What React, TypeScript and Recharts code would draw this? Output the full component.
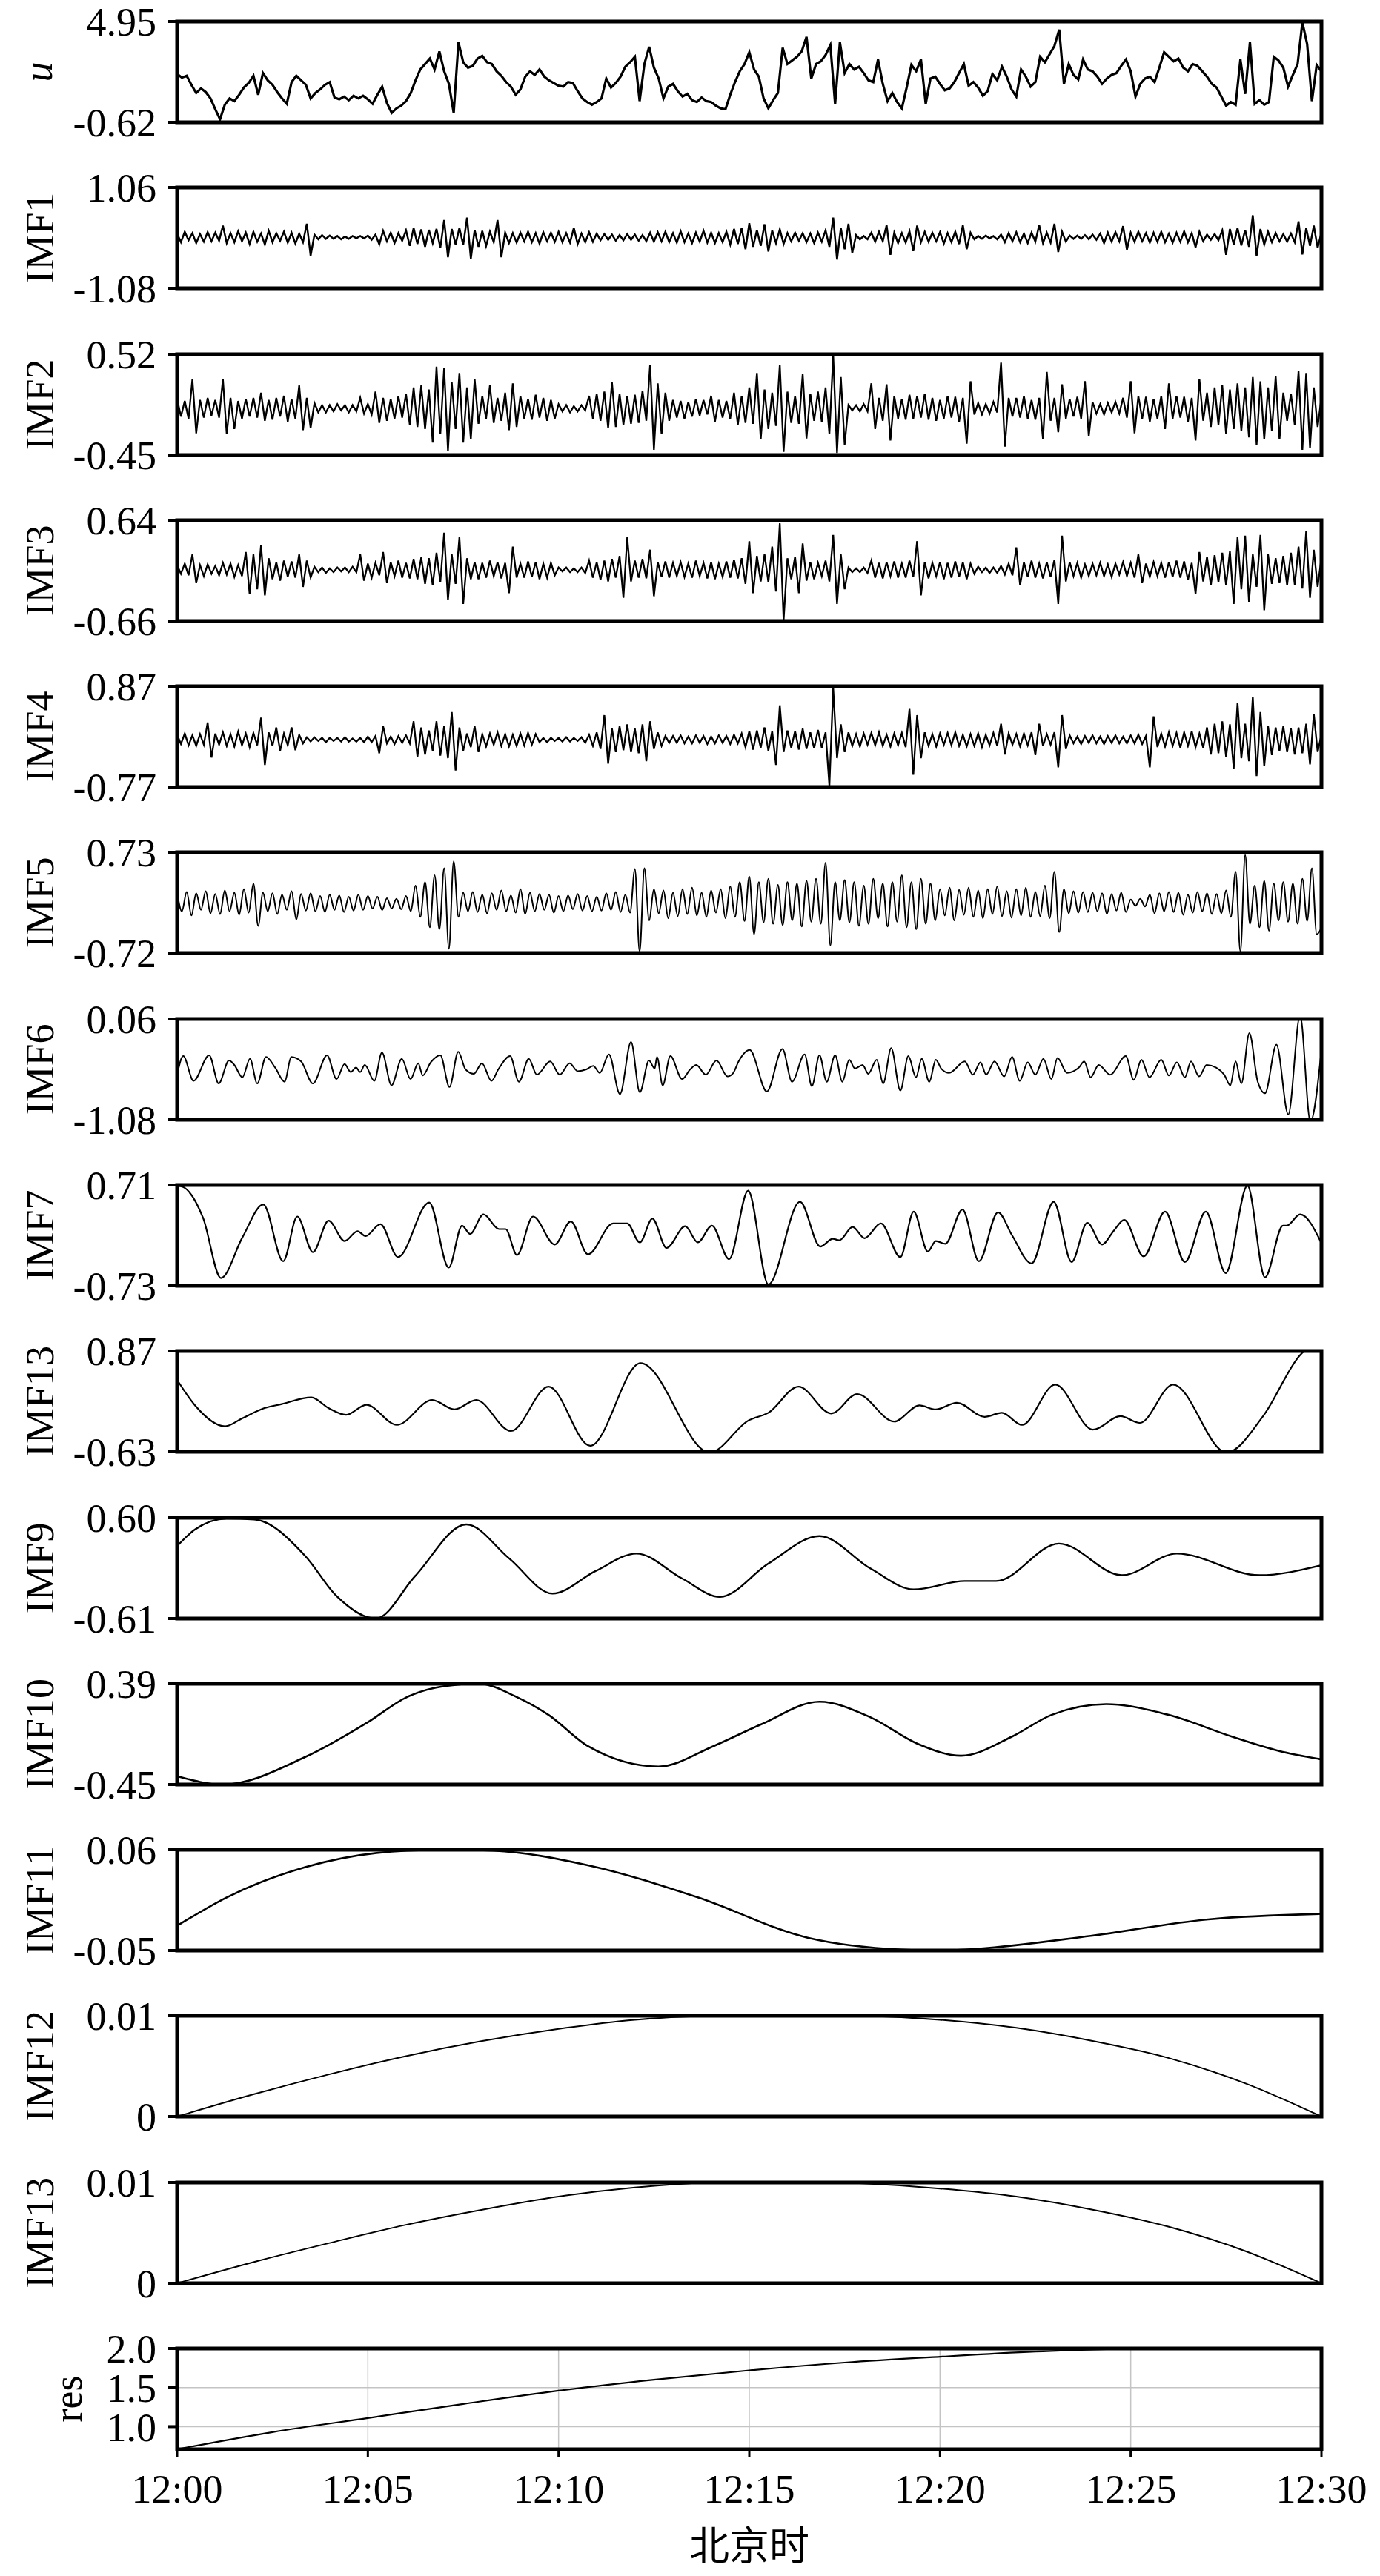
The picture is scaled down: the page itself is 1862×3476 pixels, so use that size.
import React from 'react';
import { LineChart, Line, XAxis, YAxis, ReferenceArea, CartesianGrid } from 'recharts';

const SERIF = '"Liberation Serif", "Times New Roman", "DejaVu Serif", serif';
const CJK = '"Noto Sans CJK SC", "Noto Sans", sans-serif';

const TIME_TICKS = [0, 5, 10, 15, 20, 25, 30];
const TIME_LABELS = ['12:00', '12:05', '12:10', '12:15', '12:20', '12:25', '12:30'];
const X_TITLE = '北京时';

// u : 241 samples, 0..30 min
const U_VALUES = [2.05,1.85,1.95,1.45,1.0,1.25,1.05,0.7,0.1,-0.45,
0.35,0.7,0.55,0.9,1.3,1.55,1.95,0.9,2.1,1.7,
1.45,1.05,0.7,0.4,1.6,1.95,1.7,1.45,0.7,1.0,
1.2,1.45,1.6,0.75,0.65,0.8,0.6,0.85,0.7,0.85,
0.65,0.4,0.9,1.35,0.45,-0.1,0.15,0.3,0.55,1.0,
1.7,2.3,2.6,2.9,2.3,3.3,2.2,1.5,-0.1,3.8,
2.7,2.4,2.5,2.9,3.05,2.7,2.6,2.2,1.95,1.6,
1.35,0.9,1.2,1.9,2.2,2.0,2.3,1.9,1.7,1.55,
1.4,1.35,1.6,1.55,1.1,0.7,0.5,0.35,0.5,0.7,
1.8,1.3,1.55,1.9,2.45,2.7,3.0,0.55,2.6,3.55,
2.4,1.8,0.7,1.35,1.5,1.1,0.8,0.95,0.6,0.5,
0.75,0.55,0.5,0.3,0.15,0.1,0.9,1.6,2.2,2.6,
3.25,2.3,1.9,0.7,0.15,0.6,1.0,3.5,2.6,2.8,
3.0,3.3,4.1,1.8,2.6,2.75,3.1,3.65,0.4,3.8,
2.1,2.6,2.3,2.45,2.1,1.7,1.6,2.85,1.5,0.55,
1.0,0.5,0.15,1.3,2.55,2.2,2.85,0.4,1.8,1.9,
1.5,1.15,1.25,1.6,2.1,2.6,1.4,1.6,1.3,0.85,
1.1,2.05,1.7,2.45,1.9,1.2,0.8,2.3,1.9,1.35,
1.6,3.0,2.7,3.15,3.6,4.5,1.5,2.6,2.0,1.75,
2.85,2.3,2.2,1.9,1.5,1.8,2.0,2.1,2.5,2.85,
2.2,0.8,1.5,1.8,1.9,1.6,2.4,3.25,3.0,2.75,
2.9,2.4,2.2,2.6,2.5,2.2,1.9,1.5,1.3,0.8,
0.3,0.5,0.35,2.85,0.95,3.8,0.4,0.6,0.35,0.5,
3.0,2.8,2.4,1.35,2.0,2.6,4.9,3.7,0.55,2.55,
2.2];

// IMF1..IMF4 : 301 samples, 0..30 min
const IMF1_VALUES = [0.08,-0.1,0.12,-0.06,0.09,-0.12,0.07,-0.09,0.11,-0.08,
0.1,-0.07,0.25,-0.12,0.09,-0.1,0.13,-0.08,0.1,-0.14,
0.12,-0.09,0.08,-0.15,0.14,-0.1,0.09,-0.07,0.12,-0.11,
0.1,-0.13,0.08,-0.1,0.29,-0.39,0.06,-0.04,0.05,-0.03,
0.04,-0.03,0.03,-0.04,0.02,-0.03,0.03,-0.02,0.03,-0.02,
0.04,-0.05,0.06,-0.15,0.14,-0.08,0.1,-0.12,0.09,-0.07,
0.15,-0.18,0.2,-0.14,0.17,-0.2,0.16,-0.12,0.18,-0.22,
0.37,-0.42,0.18,-0.15,0.2,-0.16,0.42,-0.45,0.16,-0.2,
0.14,-0.18,0.12,-0.1,0.37,-0.42,0.1,-0.12,0.09,-0.11,
0.1,-0.08,0.12,-0.1,0.09,-0.13,0.11,-0.08,0.1,-0.09,
0.12,-0.1,0.09,-0.11,0.2,-0.14,0.08,-0.1,0.11,-0.09,
0.08,-0.06,0.07,-0.05,0.06,-0.07,0.05,-0.06,0.07,-0.05,
0.06,-0.07,0.05,-0.08,0.1,-0.09,0.11,-0.08,0.12,-0.1,
0.09,-0.11,0.13,-0.1,0.08,-0.12,0.1,-0.09,0.14,-0.11,
0.1,-0.12,0.09,-0.1,0.12,-0.15,0.18,-0.14,0.2,-0.25,
0.3,-0.2,0.16,-0.18,0.28,-0.3,0.15,-0.12,0.17,-0.14,
0.09,-0.08,0.1,-0.07,0.09,-0.1,0.08,-0.12,0.1,-0.09,
0.15,-0.2,0.42,-0.47,0.2,-0.25,0.29,-0.33,0.05,-0.04,
0.03,-0.04,0.1,-0.09,0.12,-0.08,0.26,-0.37,0.1,-0.12,
0.09,-0.11,0.13,-0.29,0.25,-0.1,0.12,-0.09,0.1,-0.08,
0.11,-0.13,0.09,-0.1,0.12,-0.14,0.26,-0.25,0.1,-0.04,
0.03,-0.03,0.04,-0.02,0.03,-0.04,0.06,-0.1,0.09,-0.08,
0.11,-0.1,0.08,-0.12,0.1,-0.09,0.26,-0.12,0.1,-0.11,
0.29,-0.31,0.12,-0.09,0.04,-0.03,0.04,-0.03,0.05,-0.04,
0.06,-0.05,0.08,-0.12,0.1,-0.09,0.11,-0.08,0.24,-0.26,
0.1,-0.09,0.12,-0.08,0.09,-0.11,0.1,-0.09,0.12,-0.1,
0.08,-0.11,0.1,-0.09,0.13,-0.1,0.09,-0.21,0.12,-0.08,
0.06,-0.05,0.07,-0.06,0.15,-0.37,0.18,-0.15,0.2,-0.17,
0.16,-0.2,0.47,-0.39,0.18,-0.15,0.12,-0.1,0.09,-0.08,
0.07,-0.09,0.08,-0.1,0.34,-0.36,0.2,-0.18,0.25,-0.22,
0.1];

const IMF2_VALUES = [0.09,-0.08,0.07,-0.1,0.28,-0.24,0.08,-0.09,0.1,-0.07,
0.08,-0.09,0.28,-0.25,0.1,-0.2,0.07,-0.1,0.09,-0.08,
0.1,-0.09,0.15,-0.12,0.08,-0.11,0.1,-0.08,0.12,-0.13,
0.09,-0.1,0.22,-0.21,0.1,-0.19,0.05,-0.04,0.03,-0.04,
0.03,-0.03,0.04,-0.02,0.03,-0.04,0.03,-0.03,0.1,-0.05,
0.04,-0.06,0.16,-0.14,0.1,-0.12,0.09,-0.1,0.12,-0.09,
0.14,-0.16,0.2,-0.18,0.22,-0.2,0.18,-0.33,0.4,-0.25,
0.39,-0.41,0.25,-0.2,0.34,-0.33,0.2,-0.3,0.28,-0.15,
0.12,-0.1,0.22,-0.14,0.1,-0.12,0.15,-0.21,0.24,-0.18,
0.12,-0.1,0.09,-0.11,0.13,-0.09,0.1,-0.12,0.08,-0.1,
0.04,-0.03,0.03,-0.04,0.02,-0.03,0.03,-0.02,0.12,-0.1,
0.14,-0.12,0.16,-0.19,0.25,-0.18,0.14,-0.16,0.12,-0.15,
0.13,-0.14,0.17,-0.12,0.42,-0.4,0.24,-0.25,0.15,-0.12,
0.08,-0.09,0.07,-0.1,0.06,-0.08,0.09,-0.07,0.08,-0.06,
0.12,-0.13,0.08,-0.09,0.07,-0.1,0.15,-0.16,0.12,-0.14,
0.2,-0.15,0.34,-0.3,0.18,-0.2,0.15,-0.17,0.42,-0.42,
0.16,-0.14,0.12,-0.15,0.33,-0.29,0.14,-0.12,0.16,-0.13,
0.2,-0.25,0.51,-0.43,0.3,-0.35,0.03,-0.02,0.03,-0.03,
0.04,-0.03,0.24,-0.2,0.1,-0.12,0.23,-0.31,0.12,-0.1,
0.09,-0.11,0.13,-0.1,0.12,-0.09,0.14,-0.11,0.1,-0.12,
0.08,-0.1,0.12,-0.09,0.11,-0.13,0.1,-0.34,0.26,-0.06,
0.05,-0.06,0.04,-0.05,0.06,-0.04,0.44,-0.37,0.1,-0.08,
0.1,-0.09,0.12,-0.1,0.08,-0.11,0.1,-0.3,0.35,-0.12,
0.1,-0.23,0.23,-0.1,0.09,-0.08,0.11,-0.1,0.26,-0.27,
0.06,-0.05,0.04,-0.06,0.05,-0.04,0.06,-0.05,0.1,-0.09,
0.26,-0.24,0.12,-0.1,0.11,-0.13,0.09,-0.1,0.12,-0.2,
0.24,-0.1,0.12,-0.09,0.11,-0.13,0.1,-0.31,0.28,-0.12,
0.15,-0.18,0.2,-0.16,0.22,-0.25,0.18,-0.2,0.24,-0.22,
0.2,-0.28,0.3,-0.35,0.26,-0.3,0.2,-0.22,0.31,-0.3,
0.15,-0.12,0.14,-0.16,0.36,-0.4,0.34,-0.38,0.2,-0.18,
0.1];

const IMF3_VALUES = [0.06,-0.05,0.08,-0.07,0.2,-0.17,0.06,-0.08,0.07,-0.05,
0.05,-0.07,0.09,-0.06,0.08,-0.09,0.06,-0.08,0.23,-0.31,
0.2,-0.25,0.32,-0.33,0.15,-0.12,0.1,-0.14,0.12,-0.09,
0.11,-0.1,0.2,-0.22,0.12,-0.1,0.04,-0.03,0.03,-0.04,
0.02,-0.03,0.03,-0.02,0.03,-0.03,0.04,-0.03,0.2,-0.14,
0.08,-0.1,0.09,-0.07,0.23,-0.17,0.1,-0.08,0.12,-0.1,
0.09,-0.11,0.14,-0.12,0.16,-0.18,0.15,-0.2,0.22,-0.16,
0.48,-0.39,0.2,-0.18,0.42,-0.44,0.15,-0.12,0.1,-0.12,
0.09,-0.1,0.12,-0.08,0.1,-0.11,0.09,-0.3,0.3,-0.1,
0.08,-0.1,0.11,-0.09,0.1,-0.12,0.08,-0.1,0.09,-0.07,
0.03,-0.02,0.03,-0.03,0.02,-0.03,0.03,-0.04,0.12,-0.1,
0.1,-0.13,0.12,-0.15,0.14,-0.1,0.18,-0.36,0.42,-0.15,
0.12,-0.1,0.14,-0.11,0.26,-0.34,0.1,-0.09,0.11,-0.1,
0.09,-0.08,0.1,-0.09,0.08,-0.1,0.12,-0.08,0.09,-0.11,
0.1,-0.12,0.08,-0.09,0.11,-0.1,0.13,-0.11,0.15,-0.18,
0.37,-0.3,0.18,-0.15,0.2,-0.16,0.3,-0.28,0.6,-0.65,
0.15,-0.12,0.17,-0.3,0.34,-0.14,0.1,-0.12,0.09,-0.08,
0.12,-0.15,0.45,-0.44,0.2,-0.25,0.03,-0.03,0.02,-0.03,
0.03,-0.04,0.12,-0.1,0.09,-0.11,0.1,-0.08,0.11,-0.1,
0.08,-0.1,0.12,-0.09,0.37,-0.33,0.1,-0.11,0.09,-0.08,
0.1,-0.12,0.09,-0.1,0.11,-0.09,0.1,-0.12,0.08,-0.05,
0.04,-0.03,0.03,-0.04,0.03,-0.04,0.05,-0.06,0.08,-0.07,
0.29,-0.2,0.1,-0.09,0.12,-0.1,0.08,-0.11,0.1,-0.09,
0.13,-0.44,0.44,-0.15,0.1,-0.08,0.09,-0.1,0.07,-0.08,
0.08,-0.07,0.09,-0.08,0.07,-0.09,0.08,-0.06,0.1,-0.08,
0.09,-0.1,0.2,-0.17,0.08,-0.09,0.1,-0.08,0.09,-0.1,
0.1,-0.09,0.12,-0.1,0.11,-0.13,0.09,-0.31,0.23,-0.15,
0.17,-0.2,0.19,-0.16,0.22,-0.2,0.24,-0.44,0.42,-0.25,
0.44,-0.41,0.2,-0.22,0.45,-0.52,0.2,-0.18,0.15,-0.17,
0.18,-0.2,0.22,-0.19,0.3,-0.24,0.5,-0.36,0.26,-0.22,
0.15];

const IMF4_VALUES = [0.08,-0.07,0.1,-0.09,0.07,-0.1,0.09,-0.08,0.28,-0.29,
0.1,-0.08,0.12,-0.1,0.09,-0.11,0.13,-0.09,0.1,-0.12,
0.11,-0.09,0.36,-0.41,0.12,-0.1,0.2,-0.18,0.1,-0.09,
0.2,-0.17,0.08,-0.06,0.04,-0.03,0.04,-0.02,0.03,-0.04,
0.03,-0.02,0.03,-0.03,0.04,-0.03,0.02,-0.03,0.03,-0.04,
0.05,-0.04,0.06,-0.22,0.22,-0.06,0.05,-0.07,0.06,-0.05,
0.07,-0.06,0.3,-0.28,0.2,-0.24,0.15,-0.18,0.3,-0.26,
0.22,-0.3,0.45,-0.5,0.2,-0.18,0.1,-0.12,0.22,-0.2,
0.09,-0.11,0.1,-0.08,0.12,-0.1,0.09,-0.11,0.08,-0.1,
0.1,-0.09,0.11,-0.08,0.09,-0.04,0.03,-0.04,0.03,-0.02,
0.03,-0.03,0.04,-0.03,0.03,-0.02,0.04,-0.05,0.08,-0.1,
0.12,-0.15,0.4,-0.39,0.18,-0.2,0.22,-0.17,0.25,-0.2,
0.18,-0.22,0.25,-0.35,0.3,-0.15,0.12,-0.1,0.06,-0.05,
0.06,-0.05,0.07,-0.06,0.05,-0.06,0.07,-0.05,0.06,-0.07,
0.05,-0.06,0.07,-0.05,0.06,-0.07,0.08,-0.06,0.1,-0.12,
0.14,-0.16,0.15,-0.13,0.2,-0.18,0.14,-0.41,0.56,-0.2,
0.15,-0.13,0.14,-0.16,0.18,-0.15,0.12,-0.14,0.16,-0.13,
0.12,-0.75,0.84,-0.3,0.25,-0.2,0.12,-0.1,0.09,-0.11,
0.1,-0.08,0.11,-0.09,0.12,-0.1,0.08,-0.11,0.1,-0.09,
0.11,-0.12,0.5,-0.57,0.4,-0.3,0.12,-0.1,0.09,-0.11,
0.1,-0.08,0.11,-0.09,0.12,-0.1,0.08,-0.11,0.09,-0.1,
0.1,-0.12,0.08,-0.09,0.11,-0.1,0.26,-0.24,0.1,-0.08,
0.09,-0.11,0.1,-0.09,0.12,-0.25,0.26,-0.1,0.09,-0.08,
0.12,-0.45,0.4,-0.15,0.07,-0.06,0.05,-0.07,0.06,-0.05,
0.07,-0.06,0.05,-0.07,0.06,-0.05,0.07,-0.06,0.05,-0.06,
0.07,-0.06,0.08,-0.07,0.06,-0.45,0.38,-0.12,0.1,-0.11,
0.12,-0.1,0.11,-0.13,0.12,-0.1,0.14,-0.12,0.1,-0.13,
0.2,-0.24,0.26,-0.22,0.3,-0.28,0.25,-0.47,0.6,-0.3,
0.26,-0.35,0.7,-0.59,0.45,-0.43,0.22,-0.25,0.2,-0.18,
0.22,-0.2,0.18,-0.24,0.2,-0.22,0.26,-0.4,0.42,-0.2,
0.08];

// IMF5 : 241 extrema samples
const IMF5_VALUES = [0.15,-0.12,0.16,-0.18,0.14,-0.1,0.17,-0.15,
0.13,-0.16,0.18,-0.12,0.15,-0.17,0.2,-0.14,
0.28,-0.33,0.15,-0.12,0.14,-0.16,0.12,-0.1,
0.17,-0.24,0.13,-0.11,0.14,-0.12,0.1,-0.13,
0.12,-0.1,0.11,-0.13,0.09,-0.11,0.12,-0.1,
0.1,-0.08,0.09,-0.1,0.07,-0.08,0.06,-0.09,
0.1,-0.12,0.25,-0.2,0.3,-0.35,0.4,-0.38,
0.5,-0.66,0.6,-0.2,0.15,-0.12,0.16,-0.13,
0.12,-0.15,0.14,-0.1,0.18,-0.12,0.11,-0.14,
0.2,-0.16,0.15,-0.12,0.13,-0.1,0.12,-0.14,
0.1,-0.12,0.11,-0.09,0.13,-0.11,0.1,-0.12,
0.09,-0.11,0.14,-0.1,0.16,-0.13,0.12,-0.14,
0.49,-0.7,0.5,-0.25,0.2,-0.15,0.18,-0.22,
0.15,-0.19,0.2,-0.16,0.22,-0.18,0.15,-0.2,
0.18,-0.14,0.2,-0.22,0.24,-0.2,0.3,-0.26,
0.38,-0.45,0.3,-0.28,0.35,-0.3,0.26,-0.32,
0.3,-0.25,0.28,-0.34,0.32,-0.27,0.35,-0.3,
0.58,-0.61,0.3,-0.25,0.33,-0.28,0.3,-0.33,
0.25,-0.3,0.35,-0.22,0.28,-0.34,0.3,-0.27,
0.4,-0.35,0.3,-0.38,0.35,-0.3,0.28,-0.25,
0.2,-0.18,0.22,-0.25,0.19,-0.17,0.22,-0.2,
0.18,-0.22,0.2,-0.16,0.24,-0.19,0.17,-0.21,
0.2,-0.18,0.22,-0.2,0.16,-0.19,0.25,-0.22,
0.45,-0.42,0.2,-0.15,0.17,-0.14,0.16,-0.13,
0.15,-0.12,0.14,-0.16,0.13,-0.11,0.15,-0.13,
0.05,-0.04,0.06,-0.05,0.12,-0.15,0.14,-0.12,
0.16,-0.13,0.15,-0.17,0.12,-0.14,0.16,-0.12,
0.14,-0.16,0.13,-0.15,0.18,-0.2,0.45,-0.7,
0.69,-0.3,0.25,-0.35,0.32,-0.4,0.28,-0.25,
0.3,-0.27,0.28,-0.3,0.35,-0.26,0.5,-0.45,
-0.36];

// [minute, value] pairs
const IMF6_POINTS = [[0,-0.57],[0.16,-0.36],[0.43,-0.64],[0.84,-0.35],[1.09,-0.67],[1.36,-0.41],[1.5,-0.46],[1.71,-0.6],[1.91,-0.39],[2.1,-0.67],[2.33,-0.37],[2.57,-0.49],[2.82,-0.65],[2.99,-0.37],[3.25,-0.42],[3.56,-0.67],[3.93,-0.35],[4.18,-0.62],[4.39,-0.45],[4.55,-0.54],[4.69,-0.49],[4.8,-0.54],[4.92,-0.46],[5.17,-0.64],[5.37,-0.32],[5.62,-0.69],[5.89,-0.39],[6.12,-0.62],[6.32,-0.44],[6.44,-0.58],[6.65,-0.43],[6.9,-0.35],[7.14,-0.71],[7.37,-0.31],[7.56,-0.51],[7.78,-0.56],[7.99,-0.44],[8.24,-0.64],[8.42,-0.51],[8.73,-0.36],[8.96,-0.65],[9.22,-0.39],[9.43,-0.57],[9.78,-0.42],[10.03,-0.57],[10.29,-0.44],[10.5,-0.53],[10.73,-0.51],[10.91,-0.47],[11.08,-0.55],[11.32,-0.34],[11.61,-0.79],[11.9,-0.2],[12.13,-0.77],[12.37,-0.41],[12.52,-0.5],[12.58,-0.37],[12.73,-0.69],[12.93,-0.36],[13.24,-0.62],[13.45,-0.51],[13.61,-0.46],[13.86,-0.57],[14.14,-0.41],[14.43,-0.59],[14.58,-0.55],[14.72,-0.42],[15.01,-0.29],[15.46,-0.76],[15.87,-0.28],[16.12,-0.65],[16.45,-0.34],[16.64,-0.7],[16.84,-0.35],[17.03,-0.65],[17.25,-0.35],[17.44,-0.65],[17.62,-0.4],[17.77,-0.5],[17.97,-0.46],[18.12,-0.56],[18.34,-0.4],[18.51,-0.67],[18.72,-0.27],[18.96,-0.75],[19.17,-0.36],[19.37,-0.6],[19.52,-0.39],[19.72,-0.65],[19.89,-0.4],[20.03,-0.5],[20.24,-0.55],[20.65,-0.42],[20.86,-0.57],[21.06,-0.43],[21.21,-0.57],[21.43,-0.42],[21.68,-0.59],[21.89,-0.37],[22.09,-0.64],[22.3,-0.43],[22.5,-0.57],[22.71,-0.39],[22.92,-0.62],[23.08,-0.38],[23.33,-0.55],[23.64,-0.49],[23.78,-0.42],[23.95,-0.6],[24.16,-0.46],[24.46,-0.57],[24.87,-0.36],[25.08,-0.63],[25.28,-0.4],[25.49,-0.6],[25.8,-0.4],[26.0,-0.58],[26.21,-0.43],[26.42,-0.6],[26.58,-0.42],[26.79,-0.59],[26.99,-0.46],[27.24,-0.49],[27.45,-0.57],[27.61,-0.69],[27.75,-0.42],[27.9,-0.67],[28.11,-0.1],[28.33,-0.65],[28.52,-0.78],[28.82,-0.23],[29.13,-1.02],[29.44,0.1],[29.71,-1.1],[30,-0.29]];

const IMF7_POINTS = [[0,0.7],[0.16,0.68],[0.68,0.24],[1.15,-0.62],[1.71,-0.04],[2.26,0.43],[2.78,-0.38],[3.15,0.26],[3.56,-0.25],[3.97,0.2],[4.39,-0.09],[4.73,0.05],[4.94,-0.02],[5.33,0.15],[5.79,-0.32],[6.61,0.46],[7.12,-0.47],[7.47,0.13],[7.68,0.01],[8.03,0.29],[8.44,0.08],[8.61,0.08],[8.91,-0.29],[9.33,0.26],[9.9,-0.14],[10.32,0.19],[10.77,-0.28],[11.43,0.16],[11.8,0.16],[12.13,-0.11],[12.46,0.23],[12.83,-0.19],[13.32,0.12],[13.65,-0.11],[14.02,0.13],[14.47,-0.35],[14.97,0.63],[15.5,-0.71],[16.33,0.47],[16.86,-0.17],[17.19,-0.06],[17.36,-0.08],[17.71,0.11],[18.02,-0.05],[18.45,0.16],[18.96,-0.32],[19.31,0.33],[19.68,-0.24],[19.89,-0.09],[20.14,-0.13],[20.59,0.36],[21.02,-0.38],[21.52,0.32],[21.89,-0.01],[22.4,-0.41],[22.98,0.47],[23.45,-0.39],[23.86,0.17],[24.25,-0.14],[24.56,0.06],[24.83,0.21],[25.34,-0.31],[25.9,0.33],[26.42,-0.39],[26.97,0.33],[27.49,-0.55],[28.06,0.7],[28.52,-0.61],[28.99,0.13],[29.09,0.13],[29.44,0.29],[30,-0.12]];

const IMF8_POINTS = [[0,0.44],[0.47,0.06],[1.26,-0.25],[1.71,-0.13],[2.29,0.02],[2.74,0.08],[3.52,0.18],[3.97,0.02],[4.43,-0.08],[4.96,0.07],[5.76,-0.23],[6.69,0.14],[7.27,0.0],[7.84,0.14],[8.75,-0.32],[9.74,0.34],[10.83,-0.54],[12.15,0.69],[13.96,-0.64],[14.99,-0.16],[15.5,-0.05],[16.29,0.34],[17.15,-0.06],[17.83,0.23],[18.8,-0.18],[19.46,0.06],[19.89,0.0],[20.44,0.1],[21.17,-0.11],[21.62,-0.05],[22.15,-0.23],[23.02,0.37],[24.01,-0.3],[24.73,-0.1],[25.24,-0.2],[26.11,0.37],[27.51,-0.64],[28.47,-0.1],[29.44,0.81],[30,1.05]];

const IMF9_POINTS = [[0,0.26],[0.47,0.46],[1.3,0.59],[2.02,0.58],[3.36,0.14],[4.18,-0.34],[5.21,-0.61],[6.24,-0.1],[7.58,0.52],[8.71,0.11],[9.84,-0.31],[10.97,-0.04],[12.04,0.17],[13.24,-0.13],[14.23,-0.35],[15.5,0.05],[16.84,0.38],[18.18,-0.01],[19.31,-0.26],[20.65,-0.16],[21.47,-0.16],[23.12,0.29],[24.77,-0.09],[26.21,0.17],[28.37,-0.09],[30,0.03]];

const IMF10_POINTS = [[0,-0.38],[1.19,-0.45],[3.36,-0.22],[5.0,0.07],[6.03,0.28],[7.0,0.37],[7.9,0.39],[8.9,0.28],[9.74,0.13],[10.77,-0.13],[12.62,-0.3],[14.06,-0.13],[15.3,0.05],[16.84,0.24],[18.18,0.11],[19.41,-0.11],[20.55,-0.21],[21.89,-0.05],[22.92,0.13],[24.36,0.22],[26.0,0.13],[27.65,-0.05],[28.89,-0.17],[30,-0.24]];

const IMF11_POINTS = [[0,-0.023],[1.3,0.008],[3.36,0.041],[6.03,0.059],[7.2,0.06],[8.3,0.059],[10.77,0.043],[13.65,0.008],[16.53,-0.036],[19.0,-0.049],[20.0,-0.05],[20.65,-0.049],[23.95,-0.034],[27.03,-0.016],[30,-0.01]];

const IMF12_POINTS = [[0,0],[2,0.0022],[4,0.0042],[6,0.006],[8,0.0075],[10,0.0087],[12,0.0096],[14,0.01],[16,0.0101],[18,0.01],[20,0.0096],[22,0.0088],[24,0.0075],[26,0.0058],[28,0.0033],[30,0]];

const IMF13_POINTS = [[0,0],[2,0.0021],[4,0.004],[6,0.0058],[8,0.0073],[10,0.0086],[12,0.0095],[14,0.01],[16,0.0101],[18,0.0099],[20,0.0094],[22,0.0086],[24,0.0073],[26,0.0056],[28,0.0032],[30,0]];

const RES_POINTS = [[0,0.71],[2.5,0.93],[5,1.11],[7.5,1.29],[10,1.46],[12.5,1.6],[15,1.72],[17.5,1.82],[20,1.895],[22.5,1.96],[25,2.0],[27.5,2.03],[30,2.05]];

const Y_LABELS = ['u', 'IMF1', 'IMF2', 'IMF3', 'IMF4', 'IMF5', 'IMF6', 'IMF7', 'IMF13', 'IMF9', 'IMF10', 'IMF11', 'IMF12', 'IMF13', 'res'];
const Y_TICKS = [[-0.62, 4.95], [-1.08, 1.06], [-0.45, 0.52], [-0.66, 0.64], [-0.77, 0.87], [-0.72, 0.73], [-1.08, 0.06], [-0.73, 0.71], [-0.63, 0.87], [-0.61, 0.6], [-0.45, 0.39], [-0.05, 0.06], [0, 0.01], [0, 0.01], [1.0, 1.5, 2.0]];
const Y_TICK_LABELS = [['-0.62', '4.95'], ['-1.08', '1.06'], ['-0.45', '0.52'], ['-0.66', '0.64'], ['-0.77', '0.87'], ['-0.72', '0.73'], ['-1.08', '0.06'], ['-0.73', '0.71'], ['-0.63', '0.87'], ['-0.61', '0.60'], ['-0.45', '0.39'], ['-0.05', '0.06'], ['0', '0.01'], ['0', '0.01'], ['1.0', '1.5', '2.0']];
const Y_DOMAINS = [[-0.62, 4.95], [-1.08, 1.06], [-0.45, 0.52], [-0.66, 0.64], [-0.77, 0.87], [-0.72, 0.73], [-1.08, 0.06], [-0.73, 0.71], [-0.63, 0.87], [-0.61, 0.6], [-0.45, 0.39], [-0.05, 0.06], [0, 0.01], [0, 0.01], [0.71, 2.0]];

const uniform = (vals: number[]) => vals.map((v, i) => ({ t: (i * 30) / (vals.length - 1), v }));
const pairs = (pts: number[][]) => pts.map(([t, v]) => ({ t, v }));

const SERIES = [
  uniform(U_VALUES), uniform(IMF1_VALUES), uniform(IMF2_VALUES), uniform(IMF3_VALUES), uniform(IMF4_VALUES),
  uniform(IMF5_VALUES), pairs(IMF6_POINTS), pairs(IMF7_POINTS), pairs(IMF8_POINTS), pairs(IMF9_POINTS),
  pairs(IMF10_POINTS), pairs(IMF11_POINTS), pairs(IMF12_POINTS), pairs(IMF13_POINTS), pairs(RES_POINTS),
];

// styling (kept apart from data)
const CURVES = ['linear', 'linear', 'linear', 'linear', 'linear', 'monotone', 'monotone', 'monotone', 'monotone', 'monotone', 'monotone', 'monotone', 'monotone', 'monotone', 'monotone'];
const WIDTHS = [3.2, 2.5, 2.3, 2.3, 2.3, 2, 2, 2.2, 2.2, 2.4, 2.6, 2.6, 2, 2, 2.2];
const LABEL_X = [70, 72, 72, 72, 72, 72, 72, 72, 72, 72, 72, 72, 72, 72, 110];

const PANEL_TOP0 = 29;
const PANEL_PITCH = 224.29;
const PLOT_H = 136;
const M_TOP = 40;
const LEFT_W = 239;
const RIGHT_M = 1862 - 1783;

const YLab = (props: any) => {
  const { text, bx, italic } = props;
  const cy = M_TOP + PLOT_H / 2;
  return (
    <text x={bx} y={cy} transform={`rotate(-90 ${bx} ${cy})`} textAnchor="middle" fontSize={54}
      fontFamily={SERIF} fontStyle={italic ? 'italic' : 'normal'} fill="#000">{text}</text>
  );
};

const XLab = () => (
  <text x={1011} y={M_TOP + PLOT_H + 150} textAnchor="middle" fontSize={54} fontFamily={CJK} fill="#000">{X_TITLE}</text>
);

function Panel({ i }: { i: number }) {
  const last = i === SERIES.length - 1;
  const xH = last ? 170 : 40;
  const ticks = Y_TICKS[i];
  const labels = Y_TICK_LABELS[i];
  const dom = Y_DOMAINS[i];
  return (
    <div style={{ position: 'absolute', left: 0, top: PANEL_TOP0 + i * PANEL_PITCH - M_TOP }}>
      <LineChart width={1862} height={M_TOP + PLOT_H + xH} data={SERIES[i]}
        margin={{ top: M_TOP, right: RIGHT_M, bottom: 0, left: 0 }}>
        {last && <CartesianGrid stroke="#c4c4c4" strokeWidth={1.5} />}
        <XAxis dataKey="t" type="number" domain={[0, 30]} ticks={TIME_TICKS} interval={0}
          height={xH} axisLine={false} tickSize={11} tickMargin={23}
          tickLine={{ stroke: '#000', strokeWidth: 3 }}
          tick={last ? { fill: '#000', fontSize: 54, fontFamily: SERIF } : false}
          tickFormatter={(v: number) => TIME_LABELS[TIME_TICKS.indexOf(v)]}
          label={last ? <XLab /> : undefined} />
        <YAxis type="number" domain={dom} ticks={ticks} interval={0} allowDataOverflow
          width={LEFT_W} axisLine={false} tickSize={12} tickMargin={16}
          tickLine={{ stroke: '#000', strokeWidth: 4 }}
          tick={{ fill: '#000', fontSize: 54, fontFamily: SERIF }}
          tickFormatter={(v: number) => labels[ticks.indexOf(v)]}
          label={<YLab text={Y_LABELS[i]} bx={LABEL_X[i]} italic={i === 0} />} />
        <Line dataKey="v" type={CURVES[i] as any} stroke="#000" strokeWidth={WIDTHS[i]} dot={false}
          isAnimationActive={false} />
        <ReferenceArea x1={0} x2={30} y1={dom[0]} y2={dom[1]} fill="none" fillOpacity={0}
          stroke="#000" strokeWidth={5} ifOverflow="visible" />
      </LineChart>
    </div>
  );
}

export default function App() {
  return (
    <div style={{ position: 'absolute', left: 0, top: 0, width: 1862, height: 3476, background: '#fff', overflow: 'hidden' }}>
      {SERIES.map((_, i) => <Panel key={i} i={i} />)}
    </div>
  );
}
